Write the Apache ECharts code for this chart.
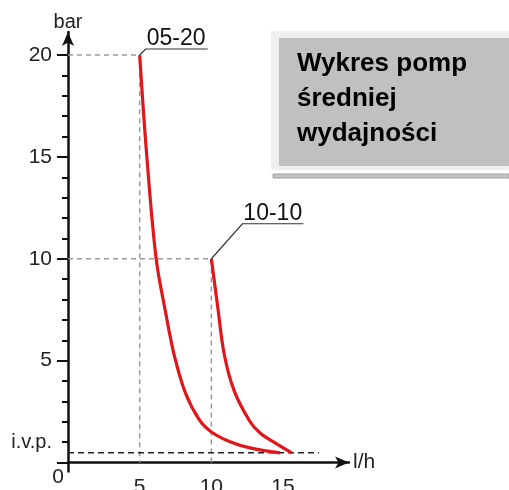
<!DOCTYPE html>
<html>
<head>
<meta charset="utf-8">
<title>Wykres pomp średniej wydajności</title>
<script src="https://cdn.jsdelivr.net/npm/echarts@6/dist/echarts.min.js"></script>
<style>
  html, body { margin: 0; padding: 0; background: #fff; }
  #chart { width: 509px; height: 490px; }
</style>
</head>
<body>
<div id="chart"></div>
<script>
// pump curves: flow (l/h) against pressure (bar)
var pump0520Flow = [5.0, 5.5, 6.15, 6.8, 7.4, 8.2, 9.2, 10.0, 11.3, 12.7, 14.8];
var pump0520Bar = [20, 15.0, 10.0, 7.4, 5.3, 3.4, 2.05, 1.5, 1.02, 0.72, 0.47];
var pump1010Flow = [10.0, 10.45, 10.9, 11.6, 12.7, 13.4, 14.3, 15.6];
var pump1010Bar = [10, 7.6, 5.3, 3.5, 2.0, 1.45, 1.02, 0.47];
var pumpNames = ['05-20', '10-10'];

var xTickLabels = [5, 10, 15];
var yTickLabels = [1, 5, 10, 15, 20];   // 1 is shown as "i.v.p."
var yMajorTicks = [0, 5, 10, 15, 20];
var ivpLevel = 0.48;
var ivpLineEnd = 17.5;
var xMax = 19.6;
var yMax = 21.13;

var FONT = "'Liberation Sans', Arial, sans-serif";

function zip(xs, ys) {
  return xs.map(function (x, i) { return [x, ys[i]]; });
}
// grey dashed lines from the axes to the first point of a curve
function guide(p) {
  return [[0, p[1]], [p[0], p[1]], [p[0], 0]];
}

var curves = [zip(pump0520Flow, pump0520Bar), zip(pump1010Flow, pump1010Bar)];
var yMinorTicks = [];
for (var v = 0; v <= 20; v++) yMinorTicks.push(v);

var chart = echarts.init(document.getElementById('chart'));

var series = [];
curves.forEach(function (c, i) {
  series.push({
    name: pumpNames[i] + ' guide',
    type: 'line',
    data: guide(c[0]),
    symbol: 'none',
    silent: true,
    z: 2,
    lineStyle: { color: '#9a9a9a', width: 1.5, type: [5, 4] }
  });
});
series.push({
  name: 'i.v.p.',
  type: 'line',
  data: [[0, ivpLevel], [ivpLineEnd, ivpLevel]],
  symbol: 'none',
  silent: true,
  z: 2,
  lineStyle: { color: '#222', width: 1.6, type: [6, 4] }
});
curves.forEach(function (c, i) {
  series.push({
    name: pumpNames[i],
    type: 'line',
    data: c,
    smooth: 0.35,
    symbol: 'none',
    z: 3,
    lineStyle: { color: '#e0161b', width: 3.2 }
  });
});

var option = {
  animation: false,
  backgroundColor: '#fff',
  grid: { left: 68, right: 160, top: 32, bottom: 27.5, containLabel: false, outerBoundsMode: 'none' },
  xAxis: {
    type: 'value',
    min: 0,
    max: xMax,
    name: 'l/h',
    nameLocation: 'end',
    nameGap: 4,
    nameTextStyle: { fontFamily: FONT, fontSize: 21, color: '#222' },
    axisLine: {
      show: true,
      symbol: ['none', 'arrow'],
      symbolSize: [9, 14],
      lineStyle: { color: '#111', width: 2.5 }
    },
    axisTick: { show: true, customValues: [0], length: 10, lineStyle: { color: '#111', width: 2.5 } },
    axisLabel: { customValues: xTickLabels, margin: 14.5, fontFamily: FONT, fontSize: 21, color: '#222' },
    splitLine: { show: false }
  },
  yAxis: [{
    type: 'value',
    min: 0,
    max: yMax,
    name: 'bar',
    nameLocation: 'end',
    nameGap: 0,
    nameTextStyle: { fontFamily: FONT, fontSize: 20, color: '#222' },
    axisLine: {
      show: true,
      symbol: ['none', 'arrow'],
      symbolSize: [9, 14],
      lineStyle: { color: '#111', width: 2.5 }
    },
    axisTick: { show: true, customValues: yMinorTicks, length: 6, lineStyle: { color: '#111', width: 2 } },
    axisLabel: {
      customValues: yTickLabels,
      margin: 16,
      fontFamily: FONT,
      fontSize: 21,
      color: '#222',
      formatter: function (val) {
        return val === 1 ? '{s|i.v.p.}' : String(val);
      },
      rich: { s: { fontFamily: FONT, fontSize: 20, color: '#222' } }
    },
    splitLine: { show: false }
  }, {
    type: 'value',
    min: 0,
    max: yMax,
    position: 'left',
    axisLine: { show: false },
    axisTick: { show: true, customValues: yMajorTicks, length: 11, lineStyle: { color: '#111', width: 2 } },
    axisLabel: { show: false },
    splitLine: { show: false }
  }],
  series: series
};

chart.setOption(option);

// leader lines to the pump names, placed from the curves' first points
var leaders = [{ dx: 6, dy: 6, len: 62 }, { dx: 31, dy: 35, len: 61 }];
var g = [
  { type: 'rect', shape: { x: 271, y: 31, width: 238, height: 139 }, style: { fill: '#efefef' }, z: 20 },
  { type: 'rect', shape: { x: 279, y: 38, width: 230, height: 128 }, style: { fill: '#c0c0c0' }, z: 21 },
  { type: 'rect', shape: { x: 273, y: 174, width: 236, height: 4 }, style: { fill: '#c4c4c4', stroke: '#a0a0a0', lineWidth: 1 }, z: 20 },
  {
    type: 'text', x: 297, y: 46, z: 22,
    style: {
      text: 'Wykres pomp\nśredniej\nwydajności',
      fontFamily: FONT, fontSize: 26, fontWeight: 'bold', lineHeight: 35,
      fill: '#000', align: 'left', verticalAlign: 'top'
    }
  },
  {
    type: 'text', x: 58, y: 467, z: 10,
    style: { text: '0', fontFamily: FONT, fontSize: 21, fill: '#222', align: 'center', verticalAlign: 'top' }
  }
];
curves.forEach(function (c, i) {
  var p = chart.convertToPixel({ gridIndex: 0 }, c[0]);
  var L = leaders[i];
  var kx = p[0] + L.dx, ky = p[1] - L.dy;
  g.push({
    type: 'polyline', z: 10,
    shape: { points: [p, [kx, ky], [kx + L.len, ky]] },
    style: { stroke: '#333', lineWidth: 1.2, fill: null }
  });
  g.push({
    type: 'text', x: kx + 1, y: ky + 1, z: 10,
    style: { text: pumpNames[i], fontFamily: FONT, fontSize: 23, fill: '#111', align: 'left', verticalAlign: 'bottom' }
  });
});
chart.setOption({ graphic: g });
</script>
</body>
</html>
